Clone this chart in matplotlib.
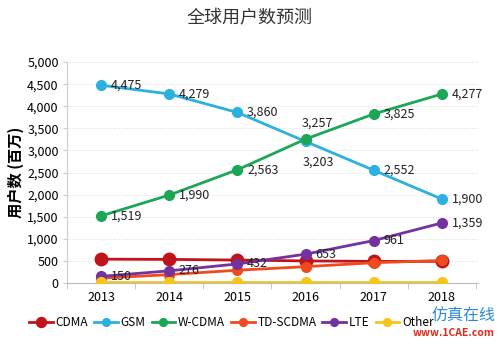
import matplotlib.pyplot as plt

plt.rcParams['font.family'] = ['Noto Sans CJK SC', 'DejaVu Sans']

years = [2013, 2014, 2015, 2016, 2017, 2018]
cdma = [540, 535, 520, 500, 490, 490]
gsm = [4475, 4279, 3860, 3203, 2552, 1900]
wcdma = [1519, 1990, 2563, 3257, 3825, 4277]
tdscdma = [110, 190, 290, 370, 460, 510]
lte = [150, 276, 432, 653, 961, 1359]
other = [15, 15, 15, 15, 15, 15]

series = [
    ('CDMA', cdma, '#c0141c', 9),
    ('GSM', gsm, '#2cb0e0', 7),
    ('W-CDMA', wcdma, '#1ca656', 7),
    ('TD-SCDMA', tdscdma, '#f04a1e', 7),
    ('LTE', lte, '#7232a0', 7),
    ('Other', other, '#f6c51c', 7),
]

fig = plt.figure(figsize=(5, 3.41), dpi=100)
ax = fig.add_axes([0.134, 0.17, 0.822, 0.648])

for name, vals, color, ms in series:
    ax.plot(years, vals, color=color, lw=2, marker='o', ms=ms, label=name,
            zorder=3)

# data labels
for vals, skip in [(gsm, 3), (wcdma, 3), (lte, None)]:
    for i, (x, v) in enumerate(zip(years, vals)):
        if i == skip:
            continue
        ax.annotate(f'{v:,}', (x, v), xytext=(7, 0), textcoords='offset points',
                    ha='left', va='center', fontsize=9, color='#222222',
                    zorder=4)
ax.annotate(f'{gsm[3]:,}', (years[3], gsm[3]), xytext=(-2, -10),
            textcoords='offset points', ha='left', va='top', fontsize=9,
            color='#222222')
ax.annotate(f'{wcdma[3]:,}', (years[3], wcdma[3]), xytext=(-3, 7),
            textcoords='offset points', ha='left', va='bottom', fontsize=9,
            color='#222222')

ax.set_xlim(2012.5, 2018.53)
ax.set_ylim(0, 5000)
ax.set_yticks(range(0, 5001, 500))
ax.set_yticklabels([f'{v:,}' for v in range(0, 5001, 500)], fontsize=9)
ax.set_xticks(years)
ax.set_xticklabels([str(y) for y in years], fontsize=9)
ax.set_xticks([y + 0.5 for y in range(2012, 2019)], minor=True)
ax.tick_params(axis='x', which='major', length=0, pad=6)
ax.tick_params(axis='x', which='minor', length=4, color='#bbbbbb')
ax.tick_params(axis='y', length=3, color='#cccccc', pad=3)
ax.grid(axis='y', color='#dddddd', lw=0.7, ls=':')
for s in ['top', 'right']:
    ax.spines[s].set_visible(False)
ax.spines['left'].set_color('#cccccc')
ax.spines['bottom'].set_color('#bbbbbb')

ax.set_ylabel('用户数 (百万)', fontsize=11, fontweight='bold', labelpad=2)
fig.text(0.5, 0.945, '全球用户数预测', ha='center', va='center', fontsize=13,
         color='#333333')

ax.legend(loc='upper center', bbox_to_anchor=(0.40, -0.1), ncol=6,
          frameon=False, fontsize=8.5, handlelength=2.0, columnspacing=0.5,
          handletextpad=0.25, markerscale=0.8)

# watermark
fig.text(0.99, 0.075, '仿真在线', ha='right', va='center', fontsize=11.5,
         color='#2a8ad8')
fig.text(0.99, 0.022, 'www.1CAE.com', ha='right', va='center', fontsize=7.5,
         color='#e02a1a', fontweight='bold')

fig.savefig('out.png', dpi=100)
